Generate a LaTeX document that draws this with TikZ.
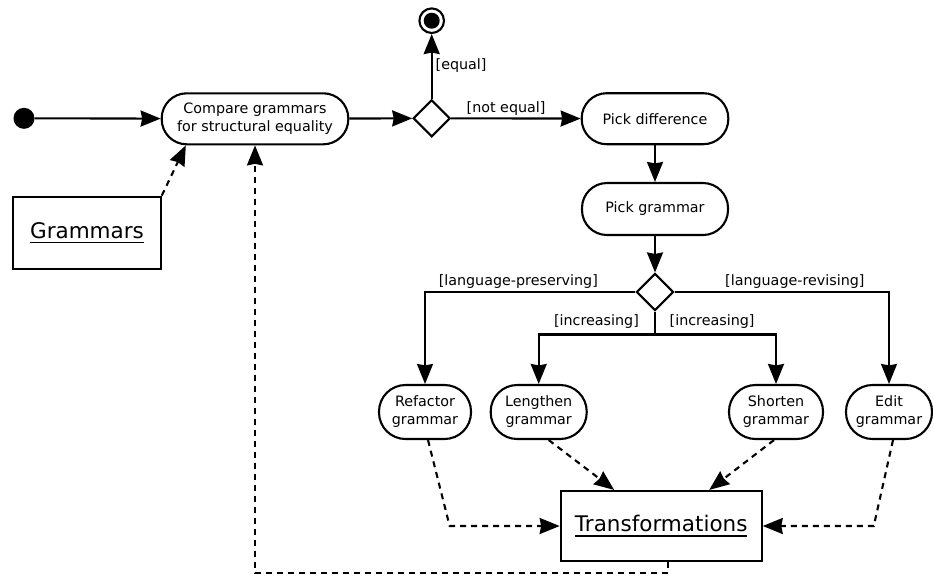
\documentclass[tikz,border=0pt]{standalone}
\usepackage{fontspec}
\setmainfont{DejaVu Sans}
\usetikzlibrary{arrows.meta,shapes.geometric,calc}
% underlined object name
\newcommand\objtext[1]{\setbox0\hbox{#1}\rlap{\copy0}\rule[-4.75pt]{\wd0}{1.6pt}}
\begin{document}
\begin{tikzpicture}[x=1pt,y=-1pt,
  every node/.style={font=\fontsize{14.3}{18}\selectfont, text=black},
  act/.style={rectangle, draw, line width=2.1pt, align=center, inner sep=0pt,
    minimum height=51pt, rounded corners=25pt},
  sact/.style={act, minimum height=54pt, rounded corners=26.5pt},
  obj/.style={rectangle, draw, line width=2.1pt, inner sep=0pt,
    font=\fontsize{21.5}{26}\selectfont},
  dec/.style={diamond, draw, line width=2.1pt, minimum width=37pt,
    minimum height=37pt, inner sep=0pt},
  initial/.style={circle, fill=black, minimum size=21pt, inner sep=0pt},
  final/.style={circle, draw, line width=2.1pt, minimum size=24.6pt, inner sep=0pt},
  flow/.style={line width=2.1pt, -{Stealth[length=20pt, width=16pt, inset=1.5pt]}},
  oflow/.style={flow, dash pattern=on 6pt off 5pt},
  lbl/.style={inner sep=0pt}]

\useasboundingbox (0,0) rectangle (933,574);

% nodes
\node[initial] (start) at (24,118.3) {};
\node[act, minimum width=186.6pt] (cmp) at (255,118.8)
  {Compare grammars\\for structural equality};
\node[dec] (d1) at (431.7,118.3) {};
\node[final] (end) at (431.7,20.7) {};
\fill (end.center) circle (8);
\node[act, minimum width=146.6pt] (pd) at (655,118.7) {Pick difference};
\node[act, minimum width=146pt, minimum height=52pt] (pg) at (655,209) {Pick grammar};
\node[dec] (d2) at (655,292) {};
\coordinate (split) at (655,334.5);
\node[sact, minimum width=92pt] (ref) at (425,412) {Refactor\\grammar};
\node[sact, minimum width=96pt] (len) at (538.7,412) {Lengthen\\grammar};
\node[sact, minimum width=94pt] (sho) at (776,412) {Shorten\\grammar};
\node[sact, minimum width=86pt] (edit) at (889,412) {Edit\\grammar};
\node[obj, minimum width=147.4pt, minimum height=72.6pt] (gram) at (87,233)
  {\objtext{Grammars}};
\node[obj, minimum width=201pt, minimum height=70pt] (trans) at (661.2,526)
  {\objtext{Transformations}};

% guards
\node[lbl, anchor=base west] (g-eq) at (435.5,69.5) {[equal]};
\node[lbl, anchor=base west] (g-neq) at (466.5,112.5) {[not equal]};
\node[lbl, anchor=base east] (g-pres) at (598,285) {[language-preserving]};
\node[lbl, anchor=base west] (g-rev) at (725,285) {[language-revising]};
\node[lbl, anchor=base east] (g-inc1) at (639,325) {[increasing]};
\node[lbl, anchor=base west] (g-inc2) at (669.5,325) {[increasing]};

% control flow
\draw[flow] (start) -- (cmp);
\draw[flow] (cmp) -- (d1);
\draw[flow] (d1) -- (end);
\draw[flow] (d1) -- (pd);
\draw[flow] (pd) -- (pg);
\draw[flow] (pg) -- (d2);
\draw[flow] (d2.west) -| (ref.north);
\draw[flow] (d2.east) -| (edit.north);
\draw[line width=2.1pt] (d2.south) -- (split);
\draw[flow] (split) -| (len.north);
\draw[flow] (split) -| (sho.north);

% object flow
\draw[oflow] (gram.north east) -- (cmp.-159);
\draw[oflow] ([xshift=3pt]ref.south) -- ([xshift=-110pt]trans.west) -- (trans.west);
\draw[oflow] ([xshift=10pt]len.south) -- ([xshift=-47pt]trans.north);
\draw[oflow] ([xshift=-2pt]sho.south) -- ([xshift=48pt]trans.north);
\draw[oflow] ([xshift=4pt]edit.south) -- ([xshift=111pt]trans.east) -- (trans.east);
\draw[oflow] ([xshift=7pt]trans.south) -- ++(0,10.7) -| (cmp.south);
\end{tikzpicture}
\end{document}
